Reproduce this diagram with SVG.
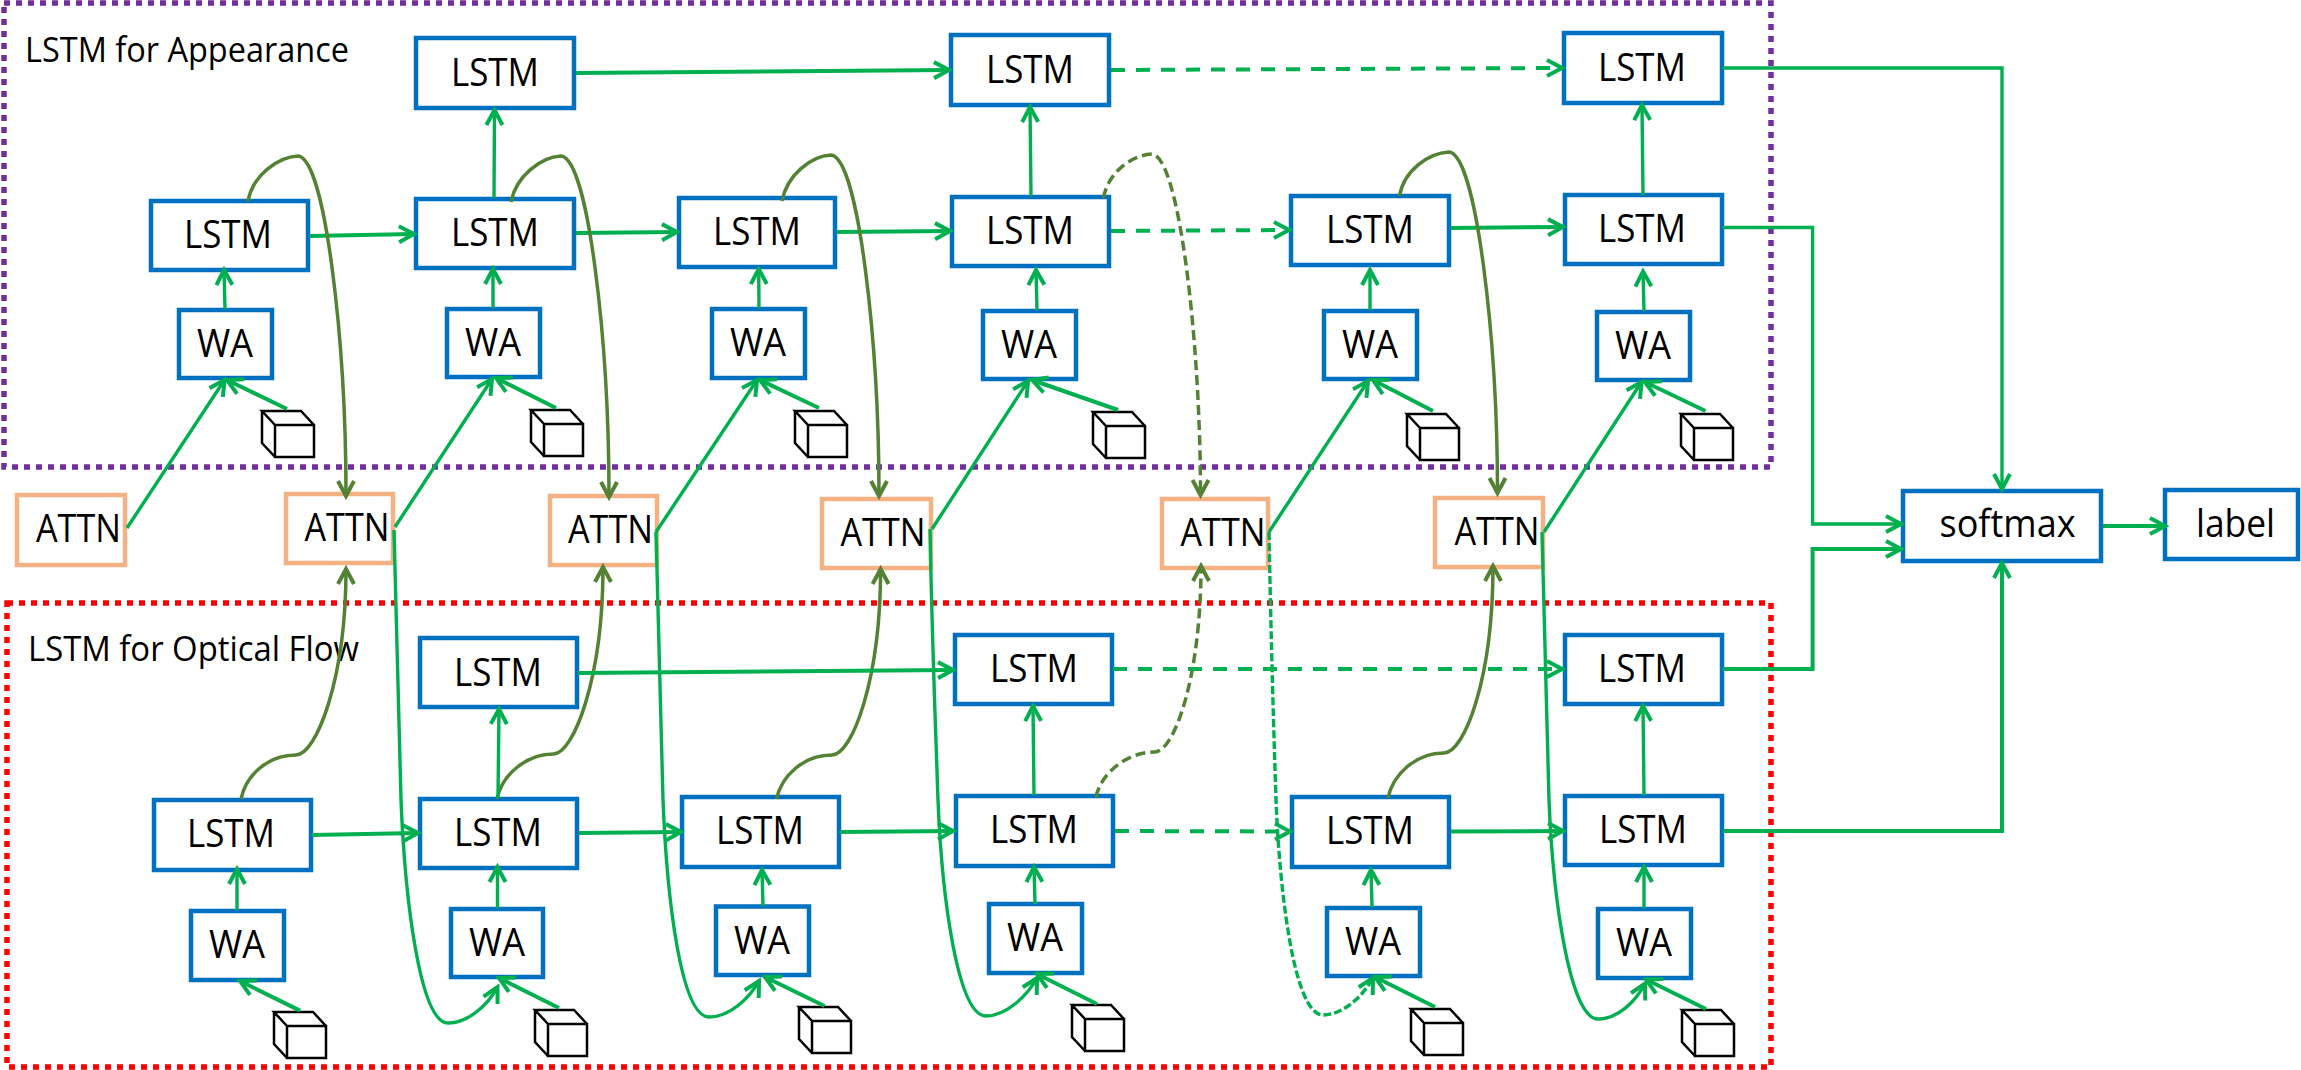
<svg xmlns="http://www.w3.org/2000/svg" xmlns:xlink="http://www.w3.org/1999/xlink" width="2301" height="1070" viewBox="0 0 2301 1070">
<style>
text{font-family:"Open Sans","Noto Sans","Liberation Sans",sans-serif;fill:#000;text-anchor:middle}
.t{font-size:39px}
.cap{font-size:35px;text-anchor:start}
.b{fill:#fff;stroke:#0070C0;stroke-width:4.500}
.o{fill:#fff;stroke:#F4B183;stroke-width:4.500}
.r{fill:none;stroke-width:5.500;stroke-dasharray:6 6}
.g,.gt{fill:none;stroke:#00B050;stroke-width:4;marker-end:url(#ag)}
.gt{stroke-width:3.400}
.d{stroke-dasharray:14 11}
.ol{fill:none;stroke:#548235;stroke-width:3.500;marker-end:url(#ao)}
.dl{stroke-dasharray:10 5}
.ld{stroke-dasharray:8 3}
.c{fill:none;stroke:#000;stroke-width:2.500;stroke-linejoin:miter}
</style>
<defs>
<marker id="ag" markerUnits="userSpaceOnUse" viewBox="-18 -11 22 22" refX="0" refY="0" markerWidth="22" markerHeight="22" orient="auto"><path d="M-15,-8 L0,0 L-15,8" fill="none" stroke="#00B050" stroke-width="4"/></marker>
<marker id="ao" markerUnits="userSpaceOnUse" viewBox="-18 -11 22 22" refX="0" refY="0" markerWidth="22" markerHeight="22" orient="auto"><path d="M-15,-8 L0,0 L-15,8" fill="none" stroke="#548235" stroke-width="4"/></marker>
<g id="cube"><path class="c" d="M13,14 H52 V46 H13 Z M13,14 L0,0 H39 L52,14 M0,0 V32 L13,46"/></g>
</defs>
<rect width="2301" height="1070" fill="#fff"/>
<g id="regions">
<rect class="r" x="4" y="3" width="1767" height="464" stroke="#7030A0"/>
<rect class="r" x="7" y="603" width="1764" height="464" stroke="#FF0000"/>
</g>
<g id="region-labels">
<text class="cap" x="25" y="62" textLength="324" lengthAdjust="spacingAndGlyphs">LSTM for Appearance</text>
<text class="cap" x="28" y="661" textLength="331" lengthAdjust="spacingAndGlyphs">LSTM for Optical Flow</text>
</g>
<g id="a-top-2"><rect class="b" x="416" y="38" width="158" height="70"/><text class="t" x="495" y="86" textLength="88" lengthAdjust="spacingAndGlyphs">LSTM</text></g>
<g id="a-top-4"><rect class="b" x="951" y="35" width="158" height="70"/><text class="t" x="1030" y="83" textLength="88" lengthAdjust="spacingAndGlyphs">LSTM</text></g>
<g id="a-top-6"><rect class="b" x="1564" y="33" width="158" height="70"/><text class="t" x="1642" y="81" textLength="88" lengthAdjust="spacingAndGlyphs">LSTM</text></g>
<g id="a-lstm-1"><rect class="b" x="151" y="201" width="157" height="69"/><text class="t" x="228" y="248" textLength="88" lengthAdjust="spacingAndGlyphs">LSTM</text></g>
<g id="a-lstm-2"><rect class="b" x="416" y="199" width="158" height="69"/><text class="t" x="495" y="246" textLength="88" lengthAdjust="spacingAndGlyphs">LSTM</text></g>
<g id="a-lstm-3"><rect class="b" x="679" y="198" width="156" height="69"/><text class="t" x="757" y="245" textLength="88" lengthAdjust="spacingAndGlyphs">LSTM</text></g>
<g id="a-lstm-4"><rect class="b" x="952" y="197" width="157" height="69"/><text class="t" x="1030" y="244" textLength="88" lengthAdjust="spacingAndGlyphs">LSTM</text></g>
<g id="a-lstm-5"><rect class="b" x="1291" y="196" width="158" height="69"/><text class="t" x="1370" y="243" textLength="88" lengthAdjust="spacingAndGlyphs">LSTM</text></g>
<g id="a-lstm-6"><rect class="b" x="1565" y="195" width="157" height="69"/><text class="t" x="1642" y="242" textLength="88" lengthAdjust="spacingAndGlyphs">LSTM</text></g>
<g id="a-wa-1"><rect class="b" x="179" y="310" width="93" height="68"/><text class="t" x="225" y="357" textLength="56" lengthAdjust="spacingAndGlyphs">WA</text></g>
<g id="a-wa-2"><rect class="b" x="447" y="309" width="93" height="68"/><text class="t" x="493" y="356" textLength="56" lengthAdjust="spacingAndGlyphs">WA</text></g>
<g id="a-wa-3"><rect class="b" x="712" y="309" width="93" height="69"/><text class="t" x="758" y="356" textLength="56" lengthAdjust="spacingAndGlyphs">WA</text></g>
<g id="a-wa-4"><rect class="b" x="983" y="311" width="93" height="68"/><text class="t" x="1029" y="358" textLength="56" lengthAdjust="spacingAndGlyphs">WA</text></g>
<g id="a-wa-5"><rect class="b" x="1324" y="311" width="93" height="68"/><text class="t" x="1370" y="358" textLength="56" lengthAdjust="spacingAndGlyphs">WA</text></g>
<g id="a-wa-6"><rect class="b" x="1597" y="312" width="93" height="68"/><text class="t" x="1643" y="359" textLength="56" lengthAdjust="spacingAndGlyphs">WA</text></g>
<g id="a-cube-1"><use xlink:href="#cube" x="262" y="411"/></g>
<g id="a-cube-2"><use xlink:href="#cube" x="531" y="410"/></g>
<g id="a-cube-3"><use xlink:href="#cube" x="795" y="411"/></g>
<g id="a-cube-4"><use xlink:href="#cube" x="1093" y="412"/></g>
<g id="a-cube-5"><use xlink:href="#cube" x="1407" y="414"/></g>
<g id="a-cube-6"><use xlink:href="#cube" x="1681" y="414"/></g>
<g id="attn-0"><rect class="o" x="17" y="495" width="108" height="70"/><text class="t" x="78.500" y="542" textLength="85" lengthAdjust="spacingAndGlyphs">ATTN</text></g>
<g id="attn-1"><rect class="o" x="286" y="494" width="107" height="69"/><text class="t" x="347" y="541" textLength="85" lengthAdjust="spacingAndGlyphs">ATTN</text></g>
<g id="attn-2"><rect class="o" x="550" y="496" width="107" height="69"/><text class="t" x="610.500" y="543" textLength="85" lengthAdjust="spacingAndGlyphs">ATTN</text></g>
<g id="attn-3"><rect class="o" x="822" y="499" width="109" height="69"/><text class="t" x="883" y="546" textLength="85" lengthAdjust="spacingAndGlyphs">ATTN</text></g>
<g id="attn-4"><rect class="o" x="1162" y="499" width="106" height="69"/><text class="t" x="1223" y="546" textLength="85" lengthAdjust="spacingAndGlyphs">ATTN</text></g>
<g id="attn-5"><rect class="o" x="1435" y="498" width="108" height="69"/><text class="t" x="1497" y="545" textLength="85" lengthAdjust="spacingAndGlyphs">ATTN</text></g>
<g id="softmax"><rect class="b" x="1903" y="491" width="198" height="70"/><text class="t" x="2007.500" y="537" textLength="136" lengthAdjust="spacingAndGlyphs">softmax</text></g>
<g id="label"><rect class="b" x="2165" y="490" width="133" height="69"/><text class="t" x="2235.500" y="537" textLength="79" lengthAdjust="spacingAndGlyphs">label</text></g>
<g id="f-top-2"><rect class="b" x="420" y="638" width="157" height="69"/><text class="t" x="498" y="686" textLength="88" lengthAdjust="spacingAndGlyphs">LSTM</text></g>
<g id="f-top-4"><rect class="b" x="955" y="635" width="157" height="69"/><text class="t" x="1034" y="682" textLength="88" lengthAdjust="spacingAndGlyphs">LSTM</text></g>
<g id="f-top-6"><rect class="b" x="1565" y="635" width="157" height="69"/><text class="t" x="1642" y="682" textLength="88" lengthAdjust="spacingAndGlyphs">LSTM</text></g>
<g id="f-lstm-1"><rect class="b" x="154" y="800" width="157" height="70"/><text class="t" x="231" y="847" textLength="88" lengthAdjust="spacingAndGlyphs">LSTM</text></g>
<g id="f-lstm-2"><rect class="b" x="420" y="799" width="157" height="69"/><text class="t" x="498" y="846" textLength="88" lengthAdjust="spacingAndGlyphs">LSTM</text></g>
<g id="f-lstm-3"><rect class="b" x="682" y="797" width="157" height="70"/><text class="t" x="760" y="844" textLength="88" lengthAdjust="spacingAndGlyphs">LSTM</text></g>
<g id="f-lstm-4"><rect class="b" x="956" y="796" width="157" height="70"/><text class="t" x="1034" y="843" textLength="88" lengthAdjust="spacingAndGlyphs">LSTM</text></g>
<g id="f-lstm-5"><rect class="b" x="1292" y="797" width="157" height="70"/><text class="t" x="1370" y="844" textLength="88" lengthAdjust="spacingAndGlyphs">LSTM</text></g>
<g id="f-lstm-6"><rect class="b" x="1565" y="796" width="157" height="69"/><text class="t" x="1643" y="843" textLength="88" lengthAdjust="spacingAndGlyphs">LSTM</text></g>
<g id="f-wa-1"><rect class="b" x="191" y="911" width="93" height="69"/><text class="t" x="237" y="958" textLength="56" lengthAdjust="spacingAndGlyphs">WA</text></g>
<g id="f-wa-2"><rect class="b" x="451" y="909" width="92" height="68"/><text class="t" x="497" y="956" textLength="56" lengthAdjust="spacingAndGlyphs">WA</text></g>
<g id="f-wa-3"><rect class="b" x="716" y="906.500" width="93" height="68.500"/><text class="t" x="762" y="954" textLength="56" lengthAdjust="spacingAndGlyphs">WA</text></g>
<g id="f-wa-4"><rect class="b" x="989" y="904" width="93" height="69"/><text class="t" x="1035" y="951" textLength="56" lengthAdjust="spacingAndGlyphs">WA</text></g>
<g id="f-wa-5"><rect class="b" x="1327" y="908" width="93" height="68"/><text class="t" x="1373" y="955" textLength="56" lengthAdjust="spacingAndGlyphs">WA</text></g>
<g id="f-wa-6"><rect class="b" x="1598" y="909" width="93" height="69"/><text class="t" x="1644" y="956" textLength="56" lengthAdjust="spacingAndGlyphs">WA</text></g>
<g id="f-cube-1"><use xlink:href="#cube" x="274" y="1012"/></g>
<g id="f-cube-2"><use xlink:href="#cube" x="535" y="1010"/></g>
<g id="f-cube-3"><use xlink:href="#cube" x="799" y="1007"/></g>
<g id="f-cube-4"><use xlink:href="#cube" x="1072" y="1005"/></g>
<g id="f-cube-5"><use xlink:href="#cube" x="1411" y="1009"/></g>
<g id="f-cube-6"><use xlink:href="#cube" x="1682" y="1010"/></g>
<g id="connectors">
<path class="g" d="M310,236 L414,234"/>
<path class="g" d="M576,233 L677,232"/>
<path class="g" d="M837,232 L950,231"/>
<path class="g d" d="M1111,231 L1289,230"/>
<path class="g" d="M1451,228 L1563,227"/>
<path class="g" d="M576,73 L949,70"/>
<path class="g d" d="M1111,70 L1562,68"/>
<path class="gt" d="M494,198 L494.500,110"/>
<path class="gt" d="M1031,196 L1030,107"/>
<path class="gt" d="M1643,195 L1642,105"/>
<path class="gt" d="M225,309 L224,270"/>
<path class="gt" d="M493,308 L493,269"/>
<path class="gt" d="M759,308 L758.700,269"/>
<path class="gt" d="M1037,310 L1036,270"/>
<path class="gt" d="M1370,310 L1370,270"/>
<path class="gt" d="M1644,311 L1643,271.500"/>
<path class="g" d="M287,409 L227,380"/>
<path class="g" d="M556,408 L496,378"/>
<path class="g" d="M819,408 L760,380"/>
<path class="g" d="M1118,410 L1032,380"/>
<path class="g" d="M1433,411 L1373,380"/>
<path class="g" d="M1705.500,411 L1645,382"/>
<path class="gt" d="M127,528 L224.500,380"/>
<path class="gt" d="M395,527 L492,379"/>
<path class="gt" d="M656,532 L757,380"/>
<path class="gt" d="M932,529 L1028,381"/>
<path class="gt" d="M1269,532 L1368,381"/>
<path class="gt" d="M1544,532 L1641.500,382"/>
<path class="ol" d="M248,201 C253,175 278,157 298,156 C325,158 346,340 346,496"/>
<path class="ol" d="M511,202 C516,176 541,157 561,156 C588,158 609,340 609,497"/>
<path class="ol" d="M782,201 C787,175 811,156 831,155 C858,157 879,340 879,496"/>
<path class="ol dl" d="M1103.500,198 C1108,172 1132,155 1152,154 C1179,156 1200.500,340 1200.500,495"/>
<path class="ol" d="M1399.500,196 C1404,170 1429,153 1449,152 C1476,154 1497.500,338 1497.500,493"/>
<path class="ol" d="M241,799 C246,775 268,755 296,755 C316,755 346,680 346,569"/>
<path class="ol" d="M497,799 C502,775 526,754 553.500,754 C573,754 603,680 603,567"/>
<path class="ol" d="M776.500,799 C782,775 804,755 832,755 C852,755 880.600,680 880.600,569"/>
<path class="ol dl" d="M1096,797 C1101,773 1127,752 1154.600,752 C1174,752 1201,678 1201,566"/>
<path class="ol" d="M1388,798 C1393,774 1416,753 1444,753 C1464,753 1493,680 1493,566"/>
<path class="gt" d="M394,530 C396,640 399,740 401,800 C405,900 420,1023 448,1023 C468,1023 488,1005 497.500,987"/>
<path class="gt" d="M656,532 C658,640 661,740 663,800 C667,900 681,1017 709,1017 C729,1017 749,999 759,981"/>
<path class="gt" d="M930,529 C932,640 936,740 938,800 C942,900 958,1016 986,1016 C1006,1016 1027,996 1037,978"/>
<path class="gt ld" d="M1269,532 C1271,640 1274,740 1276,800 C1280,900 1295,1015 1323,1015 C1343,1015 1363,996 1373,978"/>
<path class="gt" d="M1542,532 C1544,640 1547,740 1549,800 C1553,900 1570,1019 1598,1019 C1618,1019 1636,1001 1645,983.500"/>
<path class="g" d="M312,835 L418,833"/>
<path class="g" d="M579,833 L681,832"/>
<path class="g" d="M840,832 L953,831"/>
<path class="g d" d="M1115,831 L1290,831.500"/>
<path class="g" d="M1451,831.400 L1563,831"/>
<path class="g" d="M578,673 L953,670"/>
<path class="g d" d="M1113,669 L1562,669"/>
<path class="gt" d="M498,798 L499,709"/>
<path class="gt" d="M1034,795 L1033,706"/>
<path class="gt" d="M1644,795 L1643,706"/>
<path class="gt" d="M237,910 L237,869"/>
<path class="gt" d="M497.500,908 L497.500,867"/>
<path class="gt" d="M763,906 L762,870"/>
<path class="gt" d="M1035,904 L1034,867"/>
<path class="gt" d="M1372,907 L1371,870"/>
<path class="gt" d="M1644,908 L1644,867"/>
<path class="g" d="M300,1010.600 L240,981"/>
<path class="g" d="M559,1008 L499,978"/>
<path class="g" d="M824.500,1006 L765,977"/>
<path class="g" d="M1097,1004 L1037,974"/>
<path class="g" d="M1435,1007 L1375,977"/>
<path class="g" d="M1706,1009 L1646,979.500"/>
<path class="gt" d="M1723,68 H2002 V489"/>
<path class="gt" d="M1723,227.500 H1812.600 V524 H1901"/>
<path class="g" d="M1723,669 H1812.600 V549 H1901"/>
<path class="g" d="M1723,831 H2002 V563"/>
<path class="g" d="M2103,526 H2165"/>
</g>
</svg>
